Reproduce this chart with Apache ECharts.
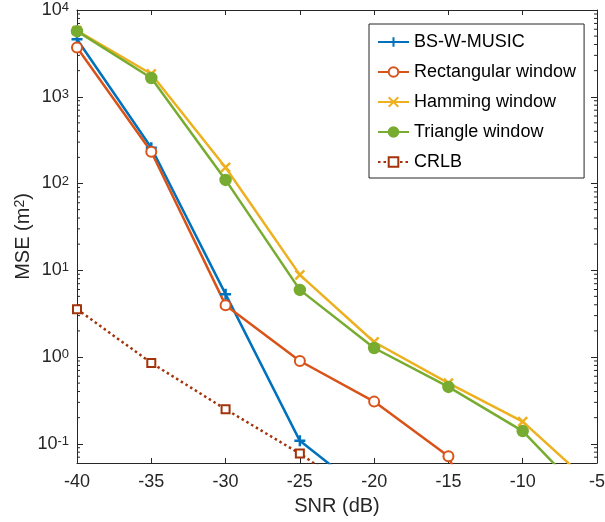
<!DOCTYPE html>
<html>
<head>
<meta charset="utf-8">
<script src="https://cdn.jsdelivr.net/npm/echarts@6/dist/echarts.min.js"></script>
<style>
html,body{margin:0;padding:0;background:#fff;}
#chart{width:605px;height:522px;}
</style>
</head>
<body>
<div id="chart"></div>
<script>
// ---- data ----
const snr = [-40, -35, -30, -25, -20, -15, -10, -5];
const bswMusic = [4600, 258, 5.3, 0.108, 0.023, null, null, null];
const rectWin = [3700, 232, 3.96, 0.90, 0.306, 0.0718, 0.0007, null];
const hammWin = [5800, 1830, 153, 8.85, 1.49, 0.50, 0.18, 0.030];
const triWin = [5700, 1645, 110, 5.94, 1.27, 0.452, 0.14, 0.018];
const crlb = [3.56, 0.855, 0.25, 0.077, 0.020, null, null, null];
const seriesNames = ['BS-W-MUSIC', 'Rectangular window', 'Hamming window', 'Triangle window', 'CRLB'];
const xTicks = [-40, -35, -30, -25, -20, -15, -10, -5];
const yMin = 0.06, yMax = 10000;

const FONT = 'Liberation Sans, Arial, Helvetica, sans-serif';
const AX = '#262626';
const C = ['#0072BD', '#D95319', '#EDB120', '#77AC30', '#A2330A'];

function pairs(arr) { return snr.map((x, i) => [x, arr[i]]); }

// minor tick positions for the log axis (2..9 x 10^k inside the range)
const minorVals = [];
for (let k = -2; k <= 3; k++) {
  for (let m = 2; m <= 9; m++) {
    const v = m * Math.pow(10, k);
    if (v > yMin * 1.0001 && v < yMax) minorVals.push(v);
  }
}

const plus = 'path://M5,0 L5,10 M0,5 L10,5';
const cross = 'path://M0,0 L10,10 M0,10 L10,0';

const chart = echarts.init(document.getElementById('chart'), null, {renderer: 'canvas'});

function lineSeries(name, arr, color, symbol, size, extra) {
  return Object.assign({
    name: name,
    type: 'line',
    data: pairs(arr),
    xAxisIndex: 0, yAxisIndex: 0,
    symbol: symbol,
    symbolSize: size,
    showAllSymbol: true,
    clip: true,
    lineStyle: {color: color, width: 2.5},
    itemStyle: {color: color, borderColor: color, borderWidth: 2.5},
    emphasis: {disabled: true},
    animation: false
  }, extra || {});
}

const option = {
  animation: false,
  grid: {left: 77, right: 8, top: 10, bottom: 59, containLabel: false, outerBoundsMode: 'none'},
  xAxis: [{
    type: 'value', min: -40, max: -5, interval: 5,
    position: 'bottom',
    axisLine: {show: true, lineStyle: {color: AX, width: 1}},
    axisTick: {show: true, inside: true, length: 5, lineStyle: {color: AX}},
    splitLine: {show: false},
    axisLabel: {color: AX, fontSize: 18, fontFamily: FONT, margin: 10, hideOverlap: false},
    name: 'SNR (dB)', nameLocation: 'middle', nameGap: 33, nameMoveOverlap: false,
    nameTextStyle: {color: AX, fontSize: 20, fontFamily: FONT}
  }, {
    type: 'value', min: -40, max: -5, interval: 5,
    position: 'top',
    axisLine: {show: true, lineStyle: {color: AX, width: 1}},
    axisTick: {show: true, inside: true, length: 5, lineStyle: {color: AX}},
    axisLabel: {show: false}, splitLine: {show: false}
  }],
  yAxis: [{
    type: 'log', logBase: 10, min: yMin, max: yMax,
    position: 'left',
    axisLine: {show: true, lineStyle: {color: AX, width: 1}},
    axisTick: {show: true, inside: true, length: 6, lineStyle: {color: AX}},
    splitLine: {show: false},
    minorTick: {show: false},
    axisLabel: {
      margin: 8,
      formatter: function (v) {
        const e = Math.log10(v);
        const r = Math.round(e);
        if (Math.abs(e - r) > 1e-6) return '';
        return '{b|10}{e|' + r + '}';
      },
      rich: {
        b: {fontSize: 18, fontFamily: FONT, color: AX, lineHeight: 18, verticalAlign: 'bottom'},
        e: {fontSize: 13, fontFamily: FONT, color: AX, lineHeight: 13, verticalAlign: 'top', padding: [0, 0, 13, 0]}
      }
    },
    name: '{n|MSE (m}{s|2}{n|)}', nameLocation: 'middle', nameGap: 44, nameRotate: 90, nameMoveOverlap: false,
    nameTextStyle: {
      rich: {
        n: {fontSize: 20, fontFamily: FONT, color: AX, lineHeight: 20, verticalAlign: 'bottom'},
        s: {fontSize: 14, fontFamily: FONT, color: AX, lineHeight: 14, verticalAlign: 'top', padding: [0, 0, 12, 0]}
      }
    }
  }, {
    type: 'log', logBase: 10, min: yMin, max: yMax,
    position: 'right',
    axisLine: {show: true, lineStyle: {color: AX, width: 1}},
    axisTick: {show: true, inside: true, length: 6, lineStyle: {color: AX}},
    axisLabel: {show: false}, splitLine: {show: false}
  }],
  legend: {
    data: seriesNames,
    orient: 'vertical',
    left: 369, top: 24,
    itemWidth: 31, itemHeight: 12, itemGap: 10,
    padding: [8, 8, 6, 8],
    backgroundColor: '#fff',
    borderColor: AX, borderWidth: 1,
    textStyle: {color: '#000', fontSize: 18, fontFamily: FONT, lineHeight: 20},
    selectedMode: false
  },
  series: [
    {
      type: 'custom',
      xAxisIndex: 0, yAxisIndex: 0,
      silent: true, clip: false, z: 1,
      data: minorVals.map(v => [-40, v]),
      renderItem: function (params, api) {
        const v = api.value(1);
        const pL = api.coord([-40, v]);
        const pR = api.coord([-5, v]);
        return {
          type: 'group',
          children: [
            {type: 'line', shape: {x1: pL[0], y1: pL[1], x2: pL[0] + 3, y2: pL[1]}, style: {stroke: AX, lineWidth: 1}},
            {type: 'line', shape: {x1: pR[0], y1: pR[1], x2: pR[0] - 3, y2: pR[1]}, style: {stroke: AX, lineWidth: 1}}
          ]
        };
      }
    },
    lineSeries(seriesNames[0], bswMusic, C[0], plus, 11),
    lineSeries(seriesNames[1], rectWin, C[1], 'emptyCircle', 10, {itemStyle: {color: C[1], borderColor: C[1], borderWidth: 2.5}}),
    lineSeries(seriesNames[2], hammWin, C[2], cross, 9),
    lineSeries(seriesNames[3], triWin, C[3], 'circle', 10),
    lineSeries(seriesNames[4], crlb, C[4], 'emptyRect', 8, {
      lineStyle: {color: C[4], width: 2.5, type: [2.5, 3]},
      itemStyle: {color: C[4], borderColor: C[4], borderWidth: 3.5}
    })
  ]
};
chart.setOption(option);
</script>
</body>
</html>
